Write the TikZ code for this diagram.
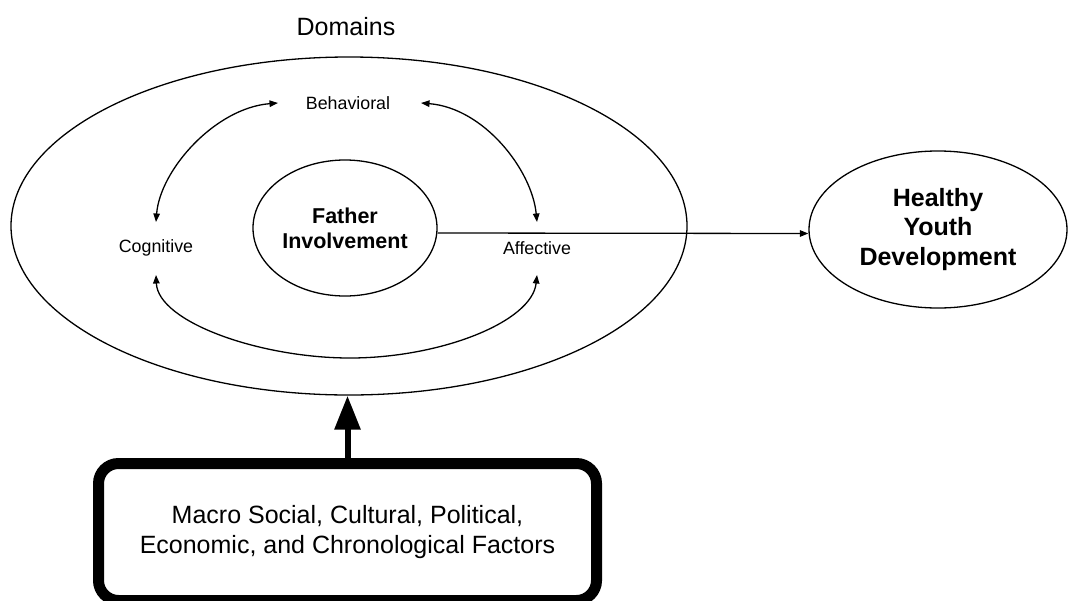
\documentclass[tikz,border=0pt]{standalone}
\usepackage{fontspec}
\setmainfont{Liberation Sans}
\usetikzlibrary{arrows.meta,shapes.geometric}
\begin{document}
\begin{tikzpicture}[x=1pt,y=-1pt,
  oval/.style={draw, ellipse, inner sep=0pt, line width=1.3pt},
  lbl/.style={font=\fontsize{17.8}{21}\selectfont, inner sep=0pt},
  thinarrow/.style={line width=1.3pt, -{Triangle[length=8.5pt,width=6.5pt]}},
  bothArrow/.style={line width=1.3pt, {Triangle[length=8.5pt,width=6.5pt]}-{Triangle[length=8.5pt,width=6.5pt]}},
  bigarrow/.style={line width=6pt, -{Triangle[length=34pt,width=25pt]}}
]
\useasboundingbox (0,0) rectangle (1068,600);
% outer domains ellipse
\node[oval, minimum width=676pt, minimum height=338pt] (dom) at (349,226) {};
\node[font=\fontsize{25}{29}\selectfont, inner sep=0pt] (domt) at (346,27) {Domains};
% father involvement
\node[oval, minimum width=184pt, minimum height=136pt, align=center,
      font=\bfseries\fontsize{21.5}{25}\selectfont] (fi) at (345,228) {Father\\Involvement};
% domain labels
\node[lbl] (beh) at (348,103) {Behavioral};
\node[lbl] (cog) at (156,248) {Cognitive};
\node[lbl] (aff) at (537,248) {Affective};
% healthy youth development
\node[oval, minimum width=258pt, minimum height=157pt, align=center,
      font=\bfseries\fontsize{25}{29.5}\selectfont] (hyd) at (938,229.5) {Healthy\\Youth\\Development};
% macro box
\node[draw, line width=11pt, rounded corners=20pt, minimum width=498pt, minimum height=137pt,
      align=center, inner sep=0pt, font=\fontsize{25}{30}\selectfont] (mac) at (347.5,532)
      {Macro Social, Cultural, Political,\\Economic, and Chronological Factors};
% curved double arrows
\draw[bothArrow] ([xshift=-70pt]beh.center) .. controls (215,108) and (160,170) .. ([yshift=26pt]cog.center);
\draw[bothArrow] ([xshift=73pt]beh.center) .. controls (484,108) and (532,170) .. ([yshift=26pt]aff.center);
\draw[bothArrow] ([yshift=-27pt]cog.center) .. controls (158,322) and (260,358) .. (350,358)
      .. controls (440,358) and (532,322) .. ([yshift=-27pt]aff.center);
% father -> healthy youth
\draw[thinarrow] ([yshift=-5pt]fi.east) -- ([yshift=-4pt]hyd.west);
% macro -> domains
\draw[bigarrow] (mac.north) -- (mac.north |- dom.south);
\end{tikzpicture}
\end{document}
